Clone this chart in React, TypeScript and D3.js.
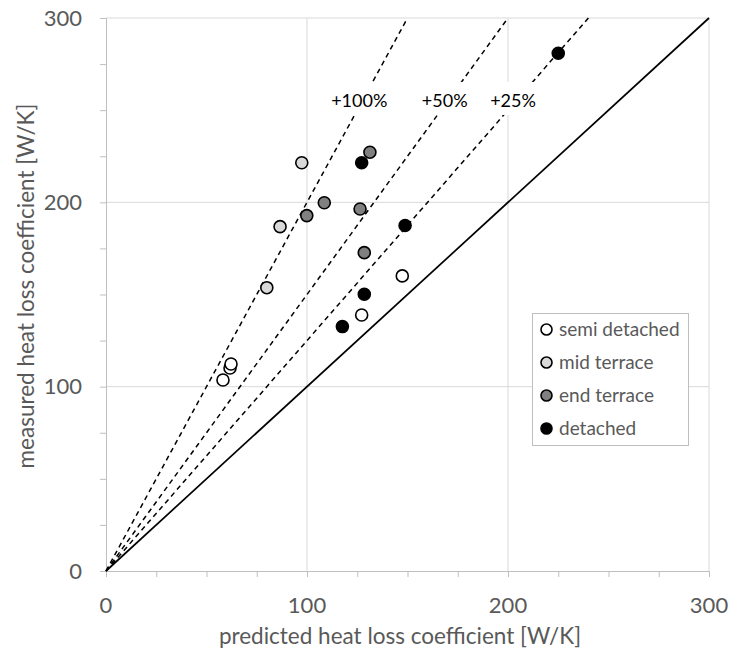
import { useEffect, useRef } from 'react';
import * as d3 from 'd3';

const seriesNames = ['semi detached', 'mid terrace', 'end terrace', 'detached'];
const seriesFills = ['#ffffff', '#d9d9d9', '#808080', '#000000'];

const semiDetached: [number, number][] = [
  [58.2, 103.6],
  [61.7, 110.1],
  [62.2, 112.3],
  [127.2, 138.9],
  [147.4, 160.1],
];
const midTerrace: [number, number][] = [
  [97.4, 221.5],
  [86.6, 186.8],
  [80.0, 153.7],
];
const endTerrace: [number, number][] = [
  [131.3, 227.2],
  [108.6, 199.8],
  [99.9, 192.8],
  [126.4, 196.4],
  [128.5, 172.7],
];
const detached: [number, number][] = [
  [127.2, 221.5],
  [148.8, 187.4],
  [128.5, 150.1],
  [117.6, 132.6],
  [225.0, 280.9],
];

const guideFactors = [2, 1.5, 1.25];
const guideLabels = ['+100%', '+50%', '+25%'];
const labelY = 255;

const majorTicks = [0, 100, 200, 300];

export default function App() {
  const svgRef = useRef<SVGSVGElement | null>(null);

  useEffect(() => {
    if (!svgRef.current) return;
    const svg = d3.select(svgRef.current);
    svg.selectAll('*').remove();

    const font = 'Lato, "Open Sans", sans-serif';
    const x = d3.scaleLinear().domain([0, 300]).range([106, 709]);
    const y = d3.scaleLinear().domain([0, 300]).range([571, 18]);
    const minor = d3.range(0, 301, 25);

    // gridlines
    const grid = svg.append('g').attr('stroke', '#d9d9d9').attr('stroke-width', 1);
    majorTicks.slice(1).forEach((t) => {
      grid.append('line').attr('x1', x(t)).attr('x2', x(t)).attr('y1', y(0)).attr('y2', y(300));
      grid.append('line').attr('x1', x(0)).attr('x2', x(300)).attr('y1', y(t)).attr('y2', y(t));
    });

    // axes
    const yAxis = d3.axisLeft(y).tickValues(minor).tickSize(6).tickFormat(() => '');
    svg
      .append('g')
      .attr('transform', `translate(${x(0)},0)`)
      .call(yAxis)
      .call((g) => g.selectAll('line, path').attr('stroke', '#bfbfbf'));
    const xAxis = d3.axisBottom(x).tickValues(minor).tickSize(6).tickFormat(() => '');
    svg
      .append('g')
      .attr('transform', `translate(0,${y(0)})`)
      .call(xAxis)
      .call((g) => g.selectAll('line, path').attr('stroke', '#bfbfbf'));

    // tick labels
    majorTicks.forEach((t) => {
      svg
        .append('text')
        .attr('x', 82)
        .attr('y', y(t))
        .attr('dy', '0.35em')
        .attr('text-anchor', 'end')
        .attr('font-family', font)
        .attr('font-size', 22)
        .attr('fill', '#595959')
        .text(t);
      svg
        .append('text')
        .attr('x', x(t))
        .attr('y', 605)
        .attr('dy', '0.35em')
        .attr('text-anchor', 'middle')
        .attr('font-family', font)
        .attr('font-size', 22)
        .attr('fill', '#595959')
        .text(t);
    });

    // axis titles
    svg
      .append('text')
      .attr('x', 400)
      .attr('y', 636)
      .attr('dy', '0.35em')
      .attr('text-anchor', 'middle')
      .attr('font-family', font)
      .attr('font-size', 22.5)
      .attr('fill', '#595959')
      .text('predicted heat loss coefficient [W/K]');
    svg
      .append('text')
      .attr('transform', 'translate(26,286) rotate(-90)')
      .attr('dy', '0.35em')
      .attr('text-anchor', 'middle')
      .attr('font-family', font)
      .attr('font-size', 22.5)
      .attr('fill', '#595959')
      .text('measured heat loss coefficient [W/K]');

    // 1:1 line
    svg
      .append('line')
      .attr('x1', x(0))
      .attr('y1', y(0))
      .attr('x2', x(300))
      .attr('y2', y(300))
      .attr('stroke', '#000')
      .attr('stroke-width', 1.7);

    // guide lines
    guideFactors.forEach((f) => {
      svg
        .append('line')
        .attr('x1', x(0))
        .attr('y1', y(0))
        .attr('x2', x(300 / f))
        .attr('y2', y(300))
        .attr('stroke', '#000')
        .attr('stroke-width', 1.5)
        .attr('stroke-dasharray', '5,4');
    });

    // guide labels
    guideFactors.forEach((f, i) => {
      const cx = x(labelY / f) - 3;
      const cy = y(labelY);
      const w = guideLabels[i].length * 11 + 8;
      svg
        .append('rect')
        .attr('x', cx - w / 2)
        .attr('y', cy - 19)
        .attr('width', w)
        .attr('height', 33)
        .attr('fill', '#fff');
      svg
        .append('text')
        .attr('x', cx)
        .attr('y', cy)
        .attr('dy', '0.35em')
        .attr('text-anchor', 'middle')
        .attr('font-family', font)
        .attr('font-size', 18)
        .attr('fill', '#000')
        .text(guideLabels[i]);
    });

    // points
    const allSeries = [semiDetached, midTerrace, endTerrace, detached];
    allSeries.forEach((pts, i) => {
      svg
        .append('g')
        .selectAll('circle')
        .data(pts)
        .join('circle')
        .attr('cx', (d) => x(d[0]))
        .attr('cy', (d) => y(d[1]))
        .attr('r', 6)
        .attr('fill', seriesFills[i])
        .attr('stroke', '#000')
        .attr('stroke-width', 1.6);
    });

    // legend
    const lg = svg.append('g');
    lg.append('rect')
      .attr('x', 532.5)
      .attr('y', 313.5)
      .attr('width', 156)
      .attr('height', 132)
      .attr('fill', '#fff')
      .attr('stroke', '#bfbfbf');
    seriesNames.forEach((name, i) => {
      const ly = 329.5 + i * 33;
      lg.append('circle')
        .attr('cx', 546.5)
        .attr('cy', ly)
        .attr('r', 5.5)
        .attr('fill', seriesFills[i])
        .attr('stroke', '#000')
        .attr('stroke-width', 1.6);
      lg.append('text')
        .attr('x', 559)
        .attr('y', ly)
        .attr('dy', '0.35em')
        .attr('font-family', font)
        .attr('font-size', 19)
        .attr('fill', '#595959')
        .text(name);
    });
  }, []);

  return (
    <svg
      ref={svgRef}
      width={733}
      height={652}
      style={{ position: 'absolute', left: 0, top: 0, background: '#fff' }}
    />
  );
}
